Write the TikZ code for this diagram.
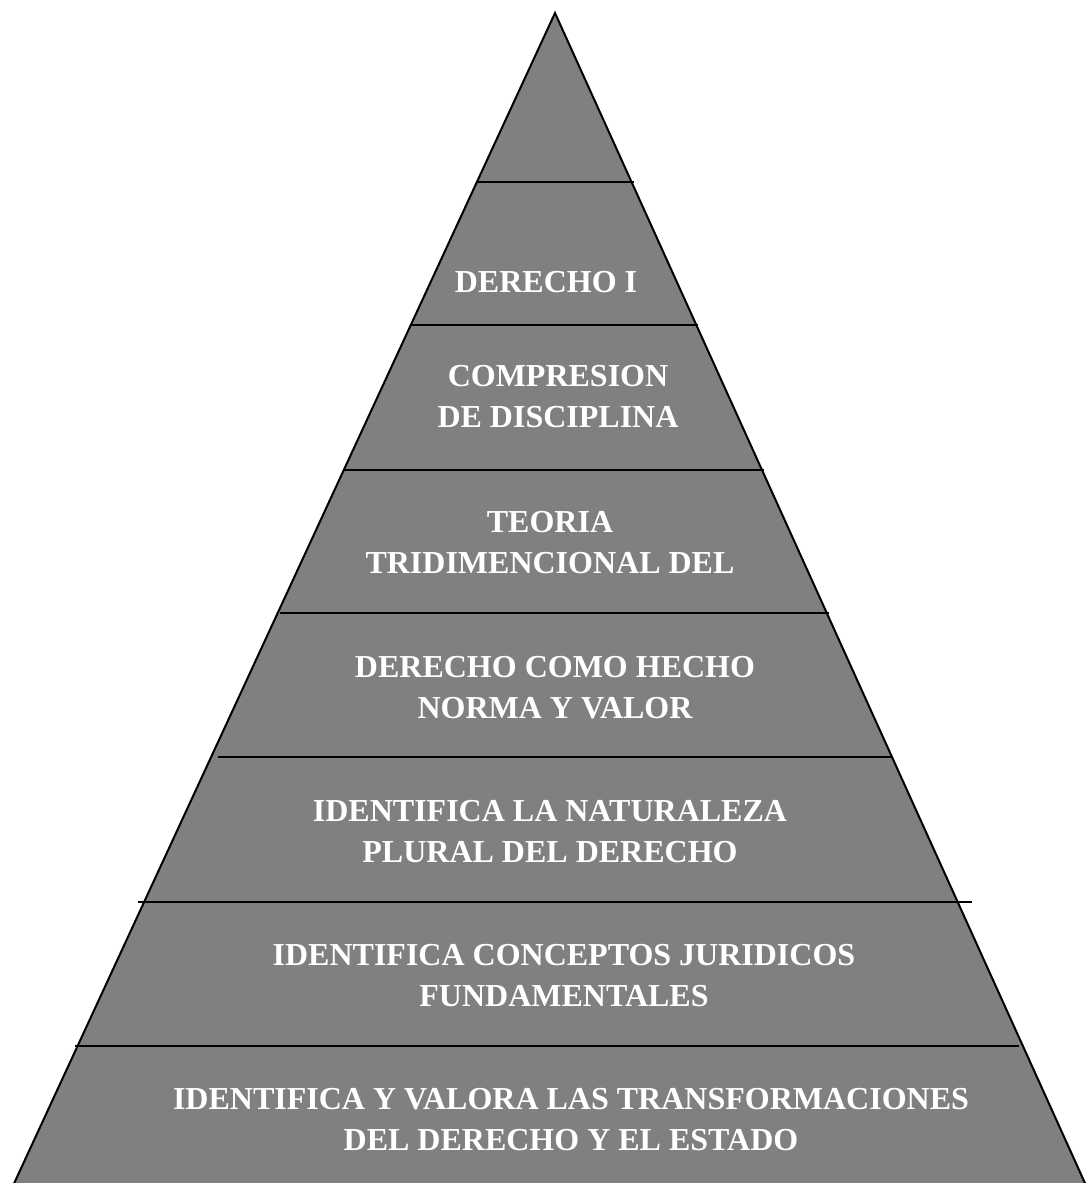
\documentclass[tikz,border=0pt]{standalone}
\usepackage{fontspec}
\setmainfont{Liberation Serif}
\tikzset{
  x=1pt,y=-1pt,
}
\tikzstyle{layer}=[line width=2.2pt]
\tikzstyle{label}=[text=white,font=\bfseries\fontsize{32}{41}\selectfont,align=center,inner sep=0pt]
\definecolor{pyrgray}{RGB}{128,128,128}

\begin{document}
\begin{tikzpicture}
        \useasboundingbox (0,0) rectangle (1086,1183);
        \clip (0,0) rectangle (1086,1183);
        \coordinate (top) at (555,13);
        \coordinate (bl) at (5,1203);
        \coordinate (br) at (1094,1203);
        \filldraw[fill=pyrgray,line width=2pt] (top)--(bl)--(br)--cycle;
        \draw[layer] (476,182)--(634,182);
        \draw[layer] (412,325)--(698,325);
        \draw[layer] (344,470)--(764,470);
        \draw[layer] (280,613)--(829,613);
        \draw[layer] (218,757)--(892,757);
        \draw[layer] (138,902)--(972,902);
        \draw[layer] (75,1046)--(1019,1046);
        \node[label] (n1) at (546,282) {DERECHO I};
        \node[label] (n2) at (558,397) {COMPRESION\\DE DISCIPLINA};
        \node[label] (n3) at (550,543) {TEORIA\\TRIDIMENCIONAL DEL};
        \node[label] (n4) at (555,688) {DERECHO COMO HECHO\\NORMA Y VALOR};
        \node[label] (n5) at (550,832) {IDENTIFICA LA NATURALEZA\\PLURAL DEL DERECHO};
        \node[label] (n6) at (564,976) {IDENTIFICA CONCEPTOS JURIDICOS\\FUNDAMENTALES};
        \node[label] (n7) at (571,1120) {IDENTIFICA Y VALORA LAS TRANSFORMACIONES\\DEL DERECHO Y EL ESTADO};
      \end{tikzpicture}
\end{document}
